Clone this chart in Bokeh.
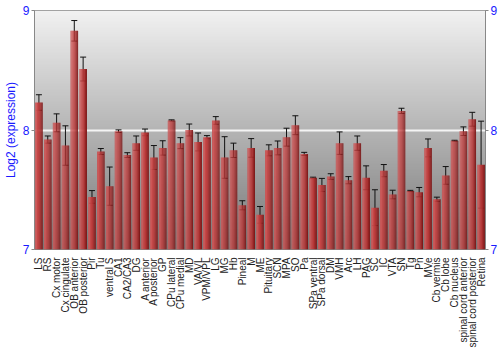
import math
import numpy as np
from bokeh.plotting import figure
from bokeh.models import (FactorRange, Range1d, LinearAxis, FixedTicker, Whisker,
                          TeeHead, ColumnDataSource)
from bokeh.transform import dodge
from bokeh.embed import file_html
from bokeh.resources import INLINE

regions = ["LS", "RS", "Cx motor", "Cx cingulate", "OB anterior", "OB posterior", "Pir", "Tu",
           "ventral S", "CA1", "CA2/CA3", "DG", "A anterior", "A posterior", "GP", "CPu lateral",
           "CPu medial", "MD", "VA/VL", "VPM/VPL", "LG", "MG", "Hb", "Pineal", "M", "ME",
           "Pituitary", "SCN", "MPA", "SO", "Pa", "SPa ventral", "SPa dorsal", "DM", "VMH", "Arc",
           "LH", "PAG", "SC", "IC", "VTA", "SN", "Tg", "Pn", "MVe", "Cb vermis", "Cb lobe",
           "Cb nucleus", "spinal cord anterior", "spinal cord posterior", "Retina"]
expression = [8.23, 7.92, 8.06, 7.87, 8.83, 8.51, 7.44, 7.82,
              7.53, 7.99, 7.79, 7.89, 7.98, 7.77, 7.85, 8.08,
              7.89, 8.00, 7.90, 7.94, 8.08, 7.77, 7.83, 7.37, 7.85, 7.29,
              7.83, 7.85, 7.94, 8.04, 7.80, 7.60, 7.54, 7.61, 7.89, 7.58,
              7.89, 7.60, 7.35, 7.66, 7.46, 8.16, 7.49, 7.48, 7.85, 7.42, 7.62,
              7.91, 7.99, 8.09, 7.71]
error = [0.065, 0.030, 0.075, 0.165, 0.086, 0.100, 0.053, 0.025,
         0.160, 0.011, 0.020, 0.060, 0.028, 0.100, 0.060, 0.005,
         0.046, 0.050, 0.075, 0.013, 0.032, 0.174, 0.060, 0.038, 0.078, 0.070,
         0.046, 0.058, 0.075, 0.079, 0.013, 0.005, 0.055, 0.024, 0.094, 0.030,
         0.060, 0.100, 0.150, 0.051, 0.036, 0.022, 0.005, 0.039, 0.075, 0.018, 0.074,
         0.004, 0.036, 0.058, 0.364]
y_ticks = [7, 8, 9]

y_min, y_max = 7, 9

p = figure(width=500, height=350, x_range=FactorRange(*regions),
           y_range=Range1d(y_min, y_max), output_backend="svg", toolbar_location=None,
           min_border_left=28, min_border_right=14, min_border_top=10, min_border_bottom=100)

# gradient background
n = 200
t = np.linspace(0, 1, n)[:, None]  # 0 bottom -> 1 top
g = (120 + (242 - 120) * t).astype(np.uint32)
g = np.repeat(g, 2, axis=1)
img = (255 << 24) | (g << 16) | (g << 8) | g
p.image_rgba(image=[img.astype(np.uint32)], x=0, y=y_min, dw=len(regions), dh=y_max - y_min,
             level="image")

src = ColumnDataSource(dict(x=regions, top=expression,
                            upper=[v + e for v, e in zip(expression, error)],
                            lower=[v - e for v, e in zip(expression, error)]))

# cylinder-like bars made of vertical strips
bar_w = 0.86
strip_cols = ["#c85a5a", "#cf5555", "#c84646", "#c03e3e", "#b83636", "#a82c2c", "#952222", "#7e1818"]
ns = len(strip_cols)
sw = bar_w / ns
for k, c in enumerate(strip_cols):
    off = -bar_w / 2 + sw * (k + 0.5)
    p.vbar(x=dodge("x", off, range=p.x_range), top="top", bottom=y_min, width=sw * 1.02,
           source=src, fill_color=c, line_color=None)

p.add_layout(Whisker(source=src, base="x", upper="upper", lower="lower",
                     line_color="#111111", line_width=1,
                     upper_head=TeeHead(size=6, line_color="#111111", line_width=1),
                     lower_head=TeeHead(size=6, line_color="#111111", line_width=1)))

p.xgrid.grid_line_color = None
p.ygrid.ticker = FixedTicker(ticks=y_ticks)
p.ygrid.grid_line_color = "#f4f4f4"
p.ygrid.grid_line_width = 2
p.ygrid.level = "underlay"

p.yaxis.ticker = FixedTicker(ticks=y_ticks)
p.yaxis.axis_label = "Log2 (expression)"
for ax in [p.yaxis[0]]:
    ax.axis_label_text_color = "#1a1aff"
    ax.axis_label_text_font = "Liberation Sans"
    ax.axis_label_text_font_size = "12px"
    ax.axis_label_text_font_style = "normal"
    ax.axis_label_standoff = 2

right = LinearAxis(ticker=FixedTicker(ticks=y_ticks))
p.add_layout(right, "right")
for ax in [p.yaxis[0], right]:
    ax.major_label_text_color = "#1a1aff"
    ax.major_label_text_font = "Liberation Sans"
    ax.major_label_text_font_size = "12px"
    ax.axis_line_color = "#888888"
    ax.major_tick_line_color = "#888888"
    ax.major_tick_out = 3
    ax.major_tick_in = 0
    ax.minor_tick_line_color = None
    ax.major_label_standoff = 2

p.xaxis.major_label_orientation = math.pi / 2
p.xaxis.major_label_text_font = "Liberation Sans"
p.xaxis.major_label_text_font_size = "10px"
p.xaxis.major_label_text_color = "#222222"
p.xaxis.major_tick_line_color = None
p.xaxis.axis_line_color = None
p.xaxis.major_label_standoff = 2

p.outline_line_color = "#888888"
p.background_fill_color = "#bbbbbb"
p.border_fill_color = "white"

open("out.html", "w").write(file_html(p, INLINE))
